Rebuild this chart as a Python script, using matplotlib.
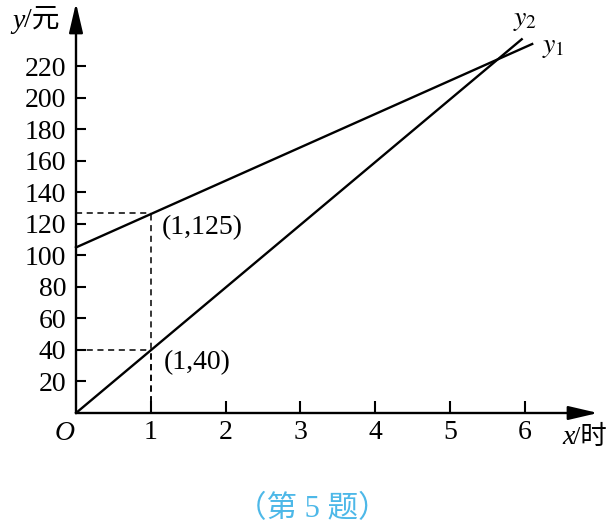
import matplotlib.pyplot as plt

# data
x_ticks = [1, 2, 3, 4, 5, 6]
y_ticks = [20, 40, 60, 80, 100, 120, 140, 160, 180, 200, 220]

y1_x = [0, 6.1]
y1_y = [105, 234]
y2_x = [0, 5.96]
y2_y = [0, 237]

points = [(1, 127, "(1,125)"), (1, 40, "(1,40)")]

plt.rcParams['font.family'] = ['Liberation Serif', 'Noto Sans CJK SC']
plt.rcParams['mathtext.fontset'] = 'stix'

fig = plt.figure(figsize=(6.15, 5.32), dpi=100)
# axes placed so that x=0 -> px 76, y=0 -> px 413
ax = fig.add_axes([76 / 615, 119 / 532, 522 / 615, 410 / 532])
ax.set_xlim(0, 6.98)
ax.set_ylim(0, 260)

for s in ax.spines.values():
    s.set_visible(False)

# axes with arrows
arrow = dict(arrowstyle='-|>,head_length=1.2,head_width=0.28', color='black',
             lw=1.7, mutation_scale=15, shrinkA=0, shrinkB=0)
ax.annotate('', xy=(1, 0), xytext=(0, 0), xycoords='axes fraction',
            textcoords='axes fraction', arrowprops=arrow)
ax.annotate('', xy=(0, 1), xytext=(0, 0), xycoords='axes fraction',
            textcoords='axes fraction', arrowprops=arrow)

ax.set_xticks(x_ticks)
ax.set_xticklabels([str(v) for v in x_ticks])
ax.set_yticks(y_ticks)
ax.set_yticklabels([str(v) for v in y_ticks])
ax.tick_params(axis='both', direction='in', width=1.5, labelsize=20)
ax.tick_params(axis='x', length=9, pad=5)
ax.tick_params(axis='y', length=7, pad=7)

# lines
ax.plot(y1_x, y1_y, color='black', lw=1.7, clip_on=False)
ax.plot(y2_x, y2_y, color='black', lw=1.7, clip_on=False)

# dashed guides and labels
for px, py, lab in points:
    ax.plot([0, px], [py, py], color='black', lw=1.1, ls=(0, (4, 3)))
    ax.plot([px, px], [0, py], color='black', lw=1.1, ls=(0, (4, 3)))
ax.text(1.15, 117.5, points[0][2], fontsize=20, va='center', ha='left')
ax.text(1.18, 32, points[1][2], fontsize=20, va='center', ha='left')

ax.text(5.84, 249, '$y_2$', fontsize=20, ha='left', va='center')
ax.text(6.23, 232, '$y_1$', fontsize=20, ha='left', va='center')

# axis labels
fig.text(12 / 615, 1 - 21 / 532, 'y', style='italic', fontsize=20, va='center')
fig.text(24 / 615, 1 - 20 / 532, '/元', fontsize=20, va='center')
fig.text(562 / 615, 1 - 438 / 532, 'x', style='italic', fontsize=20, va='center')
fig.text(573 / 615, 1 - 437 / 532, '/时', fontsize=19, va='center')
fig.text(65 / 615, 1 - 433 / 532, 'O', style='italic', fontsize=20,
         va='center', ha='center')

fig.text(312 / 615, 1 - 510 / 532, '（第 5 题）', fontsize=22, color='#4db8e8',
         ha='center', va='center')

fig.savefig('out.png', dpi=100)
